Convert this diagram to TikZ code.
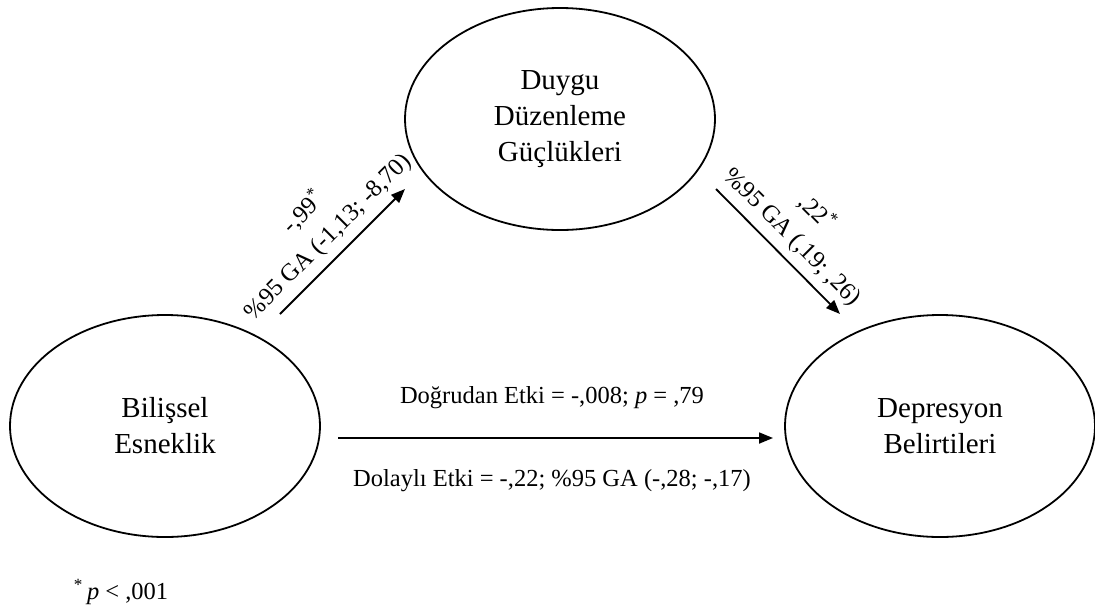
\documentclass[tikz,border=0pt]{standalone}
\usepackage{fontspec}
\setmainfont{Liberation Serif}
\usetikzlibrary{shapes.geometric,arrows.meta}

\tikzset{every picture/.style={line width=1.8pt}}
\tikzset{
  latent/.style={draw, ellipse, minimum width=310pt, minimum height=222pt, inner sep=0pt, align=center, font=\fontsize{29}{36}\selectfont},
  coef/.style={midway, anchor=south, inner sep=7.5pt, align=center, font=\fontsize{24.5}{34}\selectfont},
  effect/.style={inner sep=0pt, font=\fontsize{24.5}{28}\selectfont},
  patharrow/.style={-{Triangle[length=14pt,width=11pt]}}
}

\begin{document}
\begin{tikzpicture}[x=1pt,y=1pt,yscale=-1]

\useasboundingbox (0,0) rectangle (1095,614);

% latent variables
\node (dgu) at (560,119) [latent] {Duygu\\Düzenleme\\Güçlükleri};
\node (bil) at (165,426) [latent] {Bilişsel\\Esneklik};
\node (dep) at (940,426) [latent] {Depresyon\\Belirtileri};

% paths
\draw  [patharrow]  ([shift={(115,-112)}]bil.center) -- ([shift={(-155,70)}]dgu.center)
  node (a) [coef, rotate=45] {-,99\textsuperscript{*}\\\%95 GA (-1,13; -8,70)};
\draw  [patharrow]  ([shift={(156,70)}]dgu.center) -- ([shift={(-100,-112)}]dep.center)
  node (b) [coef, rotate=-45] {,22\textsuperscript{*}\\\%95 GA (,19; ,26)};
\draw  [patharrow]  ([shift={(173,12)}]bil.center) -- ([shift={(-167,12)}]dep.center) ;

% effects
\node (direct) at (552,398) [effect] {Doğrudan Etki = -,008; \textit{p} = ,79};
\node (indirect) at (552,481) [effect] {Dolaylı Etki = -,22; \%95 GA (-,28; -,17)};

\node (note) at (73,592) [effect, anchor=west] {\textsuperscript{*}\,\textit{p} < ,001};

\end{tikzpicture}
\end{document}
